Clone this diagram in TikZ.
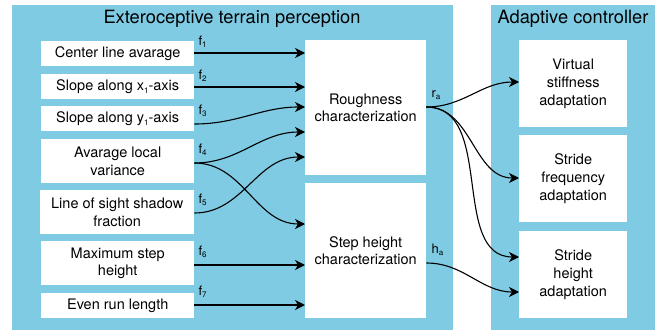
\documentclass[tikz,border=0pt]{standalone}
\usepackage{fontspec}
\setmainfont{TeX Gyre Heros}
\usetikzlibrary{arrows.meta,calc}
\definecolor{panel}{RGB}{127,203,227}
\newcommand{\sbs}[1]{\raisebox{-2.5pt}{\fontsize{8}{8}\selectfont #1}}
\tikzset{
  panelbox/.style={fill=panel,draw=none,anchor=north west,inner sep=0pt},
  wbox/.style={fill=white,draw=none,anchor=north west,inner sep=0pt,align=center,font=\fontsize{14.5}{17.7}\selectfont},
  ttl/.style={font=\fontsize{18.3}{20}\selectfont,inner sep=0pt},
  flab/.style={font=\fontsize{13}{14}\selectfont,anchor=base west,inner sep=0pt},
  conn/.style={line width=1.1pt,-{Stealth[length=10pt,width=10pt,inset=3pt]}},
}
\begin{document}
\begin{tikzpicture}[x=1pt,y=-1pt]
\useasboundingbox (0,0) rectangle (661,332);
% panels
\node[panelbox,minimum width=441pt,minimum height=325pt] (lp) at (12,5) {};
\node[panelbox,minimum width=164pt,minimum height=325pt] (rp) at (491,5) {};
\node[ttl] (t1) at (232,19) {Exteroceptive terrain perception};
\node[ttl] (t2) at (573,19) {Adaptive controller};
% input boxes
\node[wbox,minimum width=153pt,minimum height=25pt] (b1) at (41,41) {Center line avarage};
\node[wbox,minimum width=153pt,minimum height=25pt] (b2) at (41,74) {Slope along x\sbs{1}-axis};
\node[wbox,minimum width=153pt,minimum height=25pt] (b3) at (41,106) {Slope along y\sbs{1}-axis};
\node[wbox,minimum width=153pt,minimum height=44pt] (b4) at (41,139) {Avarage local\\variance};
\node[wbox,minimum width=154pt,minimum height=44pt] (b5) at (40,190) {Line of sight shadow\\fraction};
\node[wbox,minimum width=153pt,minimum height=44pt] (b6) at (41,241) {Maximum step\\height};
\node[wbox,minimum width=153pt,minimum height=25pt] (b7) at (41,293) {Even run length};
% middle boxes
\node[wbox,minimum width=121pt,minimum height=135pt] (rough) at (305,40) {Roughness\\characterization};
\node[wbox,minimum width=121pt,minimum height=135pt] (step) at (305,183) {Step height\\characterization};
% right boxes
\node[wbox,minimum width=108pt,minimum height=87pt] (vs) at (519,40) {Virtual\\stiffness\\adaptation};
\node[wbox,minimum width=108pt,minimum height=87pt] (sf) at (519,135) {Stride\\frequency\\adaptation};
\node[wbox,minimum width=108pt,minimum height=87pt] (sh) at (519,231) {Stride\\height\\adaptation};
% connection points
\coordinate (o1) at (b1.east |- 0,53);
\coordinate (o2) at (b2.east |- 0,87);
\coordinate (o3) at (b3.east |- 0,124);
\coordinate (o4) at (b4.east |- 0,163);
\coordinate (o5) at (b5.east |- 0,213);
\coordinate (o6) at (b6.east |- 0,265);
\coordinate (o7) at (b7.east |- 0,305);
\coordinate (i1) at (rough.west |- 0,53);
\coordinate (i2) at (rough.west |- 0,87);
\coordinate (i3) at (rough.west |- 0,107);
\coordinate (i4) at (rough.west |- 0,132);
\coordinate (i5) at (rough.west |- 0,157);
\coordinate (j4) at (step.west |- 0,224);
\coordinate (j6) at (step.west |- 0,265);
\coordinate (j7) at (step.west |- 0,305);
\coordinate (ro) at (rough.east |- 0,107);
\coordinate (ho) at (step.east |- 0,263);
\coordinate (kv) at (vs.west |- 0,82);
\coordinate (kf) at (sf.west |- 0,178);
\coordinate (kh1) at (sh.west |- 0,257);
\coordinate (kh2) at (sh.west |- 0,292);
% arrows
\draw[conn] (o1) -- (i1);
\draw[conn] (o2) -- (i2);
\draw[conn] (o3) to[out=0,in=180] (i3);
\draw[conn] (o4) to[out=0,in=180] (i4);
\draw[conn] (o4) to[out=0,in=180] (j4);
\draw[conn] (o5) to[out=0,in=180] (i5);
\draw[conn] (o6) -- (j6);
\draw[conn] (o7) -- (j7);
\draw[conn] (ro) to[out=0,in=180] (kv);
\draw[conn] (ro) to[out=0,in=180] (kf);
\draw[conn] (ro) to[out=0,in=180] (kh1);
\draw[conn] (ho) to[out=0,in=180] (kh2);
% labels
\node[flab] (l1) at ($(o1)+(4,-8)$) {f\sbs{1}};
\node[flab] (l2) at ($(o2)+(4,-8)$) {f\sbs{2}};
\node[flab] (l3) at ($(o3)+(4,-10)$) {f\sbs{3}};
\node[flab] (l4) at ($(o4)+(4,-10)$) {f\sbs{4}};
\node[flab] (l5) at ($(o5)+(4,-10)$) {f\sbs{5}};
\node[flab] (l6) at ($(o6)+(4,-10)$) {f\sbs{6}};
\node[flab] (l7) at ($(o7)+(4,-10)$) {f\sbs{7}};
\node[flab] (lr) at ($(ro)+(5,-10)$) {r\sbs{a}};
\node[flab] (lh) at ($(ho)+(5,-10)$) {h\sbs{a}};
\end{tikzpicture}
\end{document}
